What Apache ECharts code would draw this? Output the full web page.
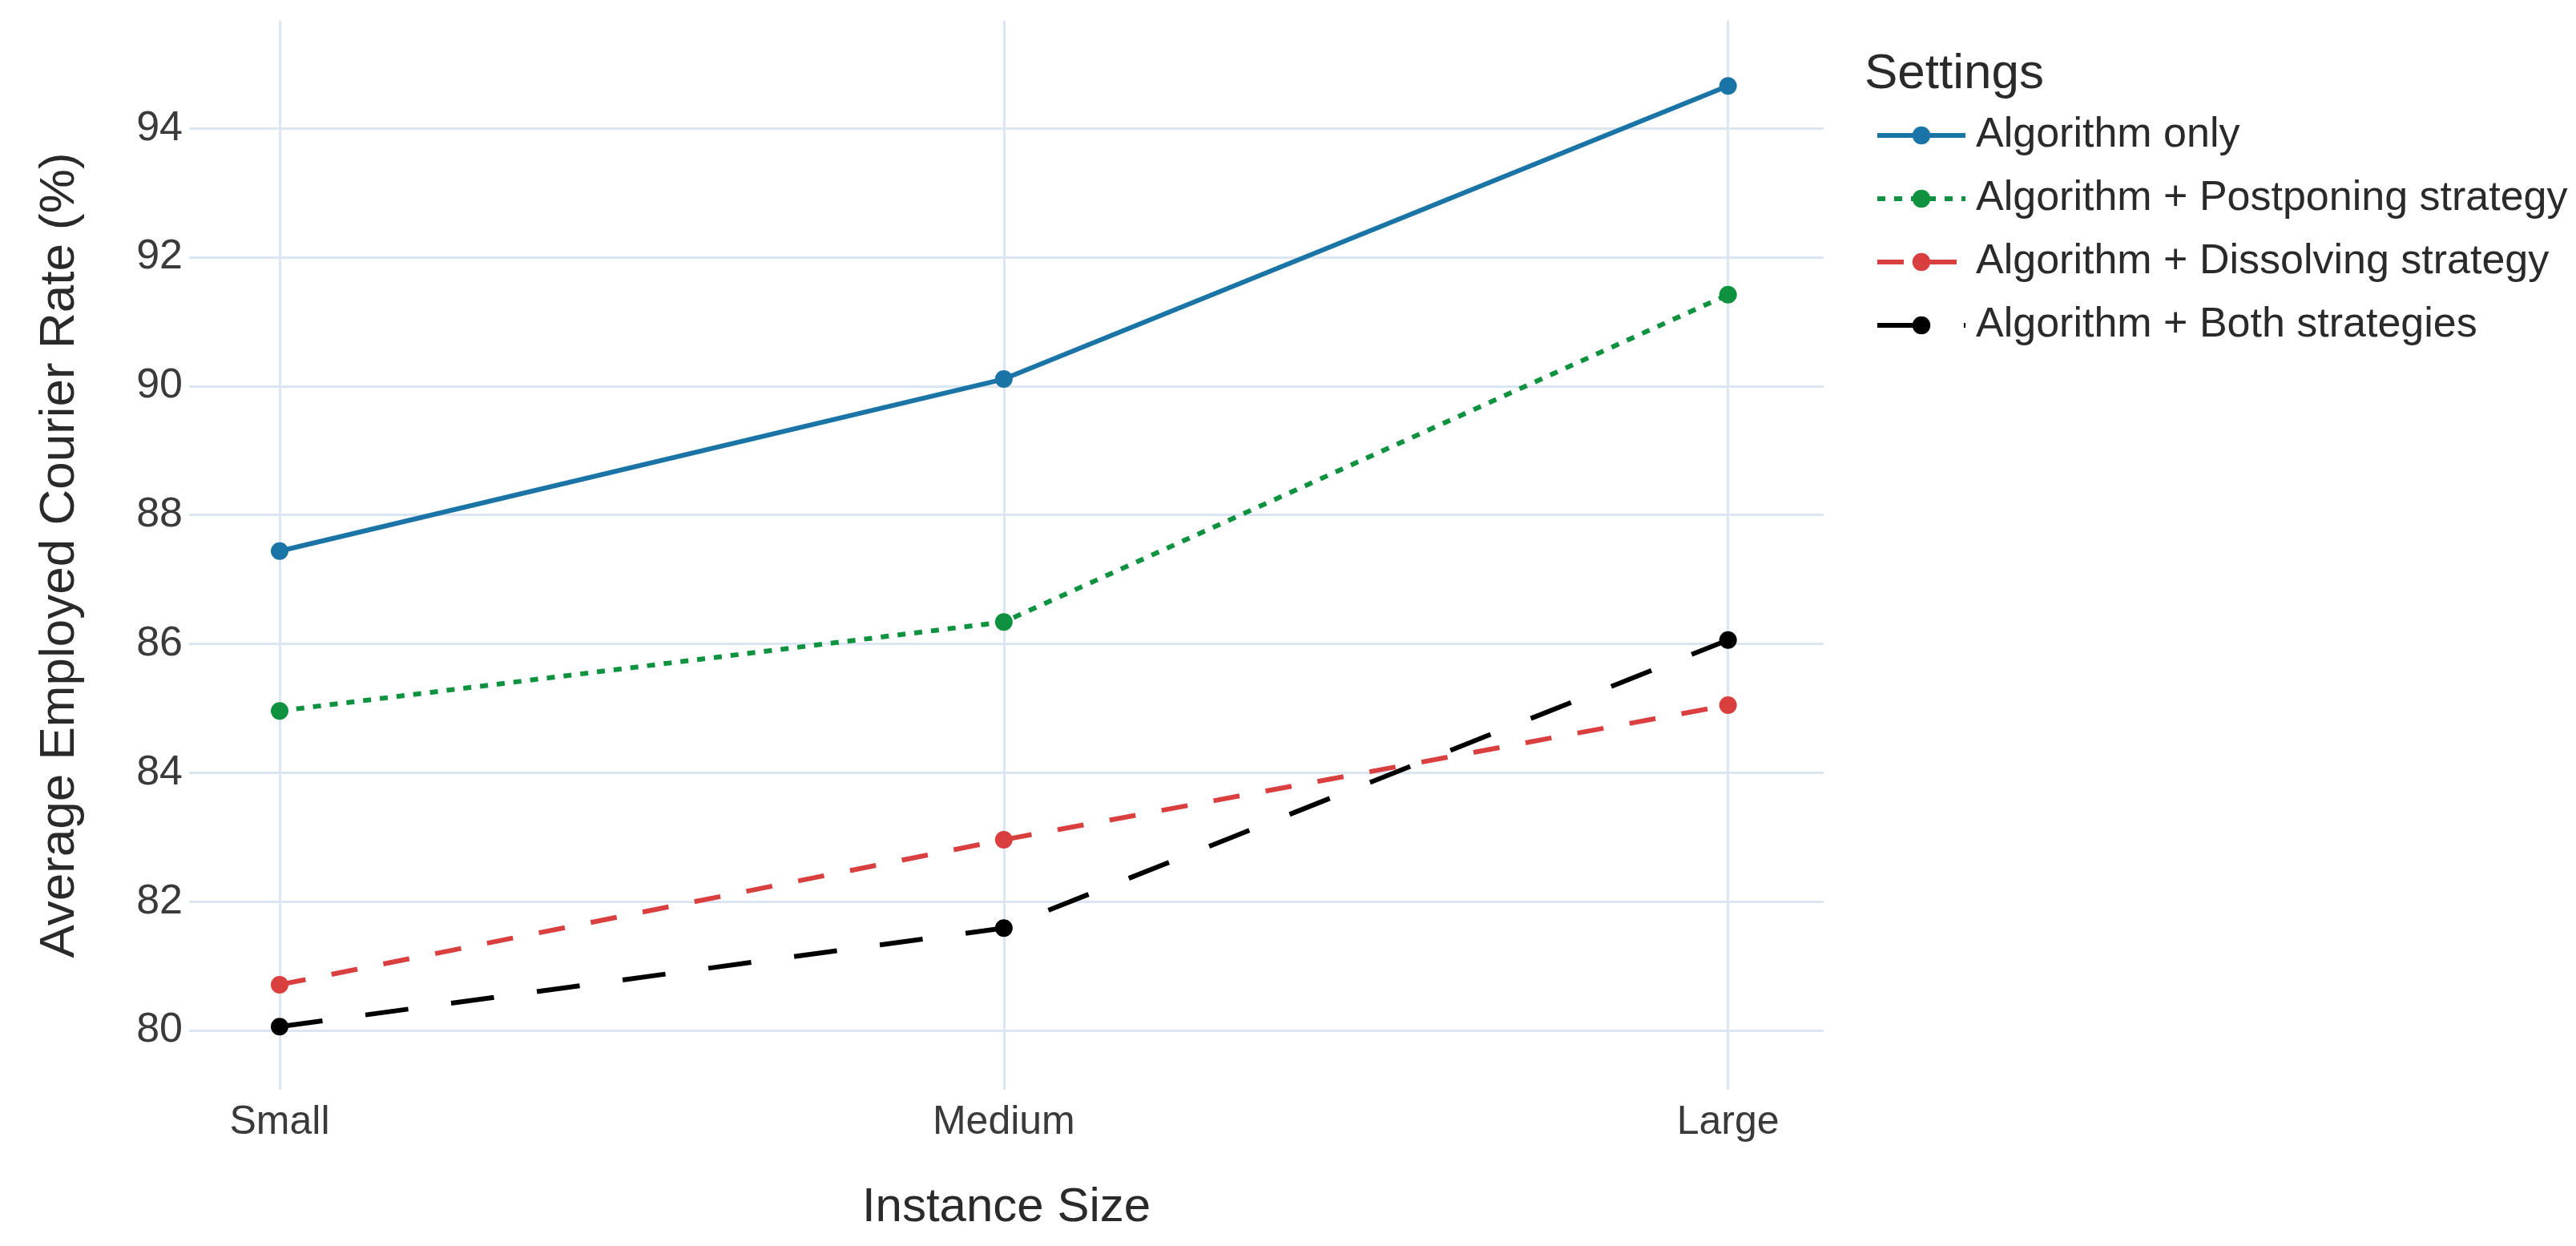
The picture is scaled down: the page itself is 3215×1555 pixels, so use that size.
<!DOCTYPE html>
<html>
<head>
<meta charset="utf-8">
<script src="https://cdn.jsdelivr.net/npm/echarts@6/dist/echarts.min.js"></script>
<style>
html,body{margin:0;padding:0;background:#fff;}
#chart{width:3215px;height:1555px;}
</style>
</head>
<body>
<div id="chart"></div>
<script>
const categories = ['Small', 'Medium', 'Large'];
const seriesNames = ['Algorithm only', 'Algorithm + Postponing strategy', 'Algorithm + Dissolving strategy', 'Algorithm + Both strategies'];
const algorithmOnly = [87.44, 90.11, 94.66];
const postponing = [84.96, 86.34, 91.42];
const dissolving = [80.71, 82.96, 85.05];
const bothStrategies = [80.06, 81.59, 86.06];
const yTicks = [80, 82, 84, 86, 88, 90, 92, 94];
const xTicks = [0, 1, 2];

const FONT = "'Liberation Sans', Arial, sans-serif";
const colors = ['#1a74a6', '#0e9240', '#d93f3f', '#000000'];
const dashes = ['solid', [10, 11], [33, 33], [54, 54]];
const allValues = [algorithmOnly, postponing, dissolving, bothStrategies];

const chart = echarts.init(document.getElementById('chart'), null, {renderer: 'canvas'});

const series = allValues.map((vals, k) => ({
  name: seriesNames[k],
  type: 'line',
  data: vals.map((v, i) => [i, v]),
  symbol: 'circle',
  symbolSize: 22,
  showSymbol: true,
  lineStyle: {color: colors[k], width: 6, type: dashes[k]},
  itemStyle: {color: colors[k]},
  emphasis: {disabled: true},
  z: 10 - k
}));

chart.setOption({
  animation: false,
  backgroundColor: '#ffffff',
  textStyle: {fontFamily: FONT},
  title: {
    text: 'Settings',
    left: 2322,
    top: 55,
    textStyle: {fontFamily: FONT, fontSize: 62, fontWeight: 'normal', color: '#2a2a2a', lineHeight: 66}
  },
  legend: {
    orient: 'vertical',
    left: 2335,
    top: 133,
    itemWidth: 110,
    itemHeight: 28,
    itemGap: 17,
    data: seriesNames,
    lineStyle: {width: 6},
    textStyle: {fontFamily: FONT, fontSize: 52, color: '#2a2a2a', lineHeight: 62, padding: [0, 0, 0, 8]}
  },
  grid: {left: 236, right: 939, top: 26, bottom: 195, containLabel: false},
  xAxis: {
    type: 'value',
    min: -0.125,
    max: 2.132,
    name: 'Instance Size',
    nameLocation: 'middle',
    nameGap: 117,
    nameTextStyle: {fontFamily: FONT, fontSize: 60, color: '#2a2a2a'},
    axisLine: {show: false},
    axisTick: {show: false, customValues: xTicks},
    axisLabel: {
      customValues: xTicks,
      formatter: v => categories[Math.round(v)],
      fontFamily: FONT, fontSize: 50, color: '#3a3a3a', margin: 16
    },
    splitLine: {show: true, lineStyle: {color: '#dce5f2', width: 3}}
  },
  yAxis: {
    type: 'value',
    min: 79.08,
    max: 95.67,
    name: 'Average Employed Courier Rate (%)',
    nameLocation: 'middle',
    nameGap: 130,
    nameTextStyle: {fontFamily: FONT, fontSize: 62, color: '#2a2a2a'},
    axisLine: {show: false},
    axisTick: {show: false, customValues: yTicks},
    axisLabel: {
      customValues: yTicks,
      fontFamily: FONT, fontSize: 52, color: '#3a3a3a', margin: 8
    },
    splitLine: {show: true, lineStyle: {color: '#dce5f2', width: 3}}
  },
  series: series
});
</script>
</body>
</html>
